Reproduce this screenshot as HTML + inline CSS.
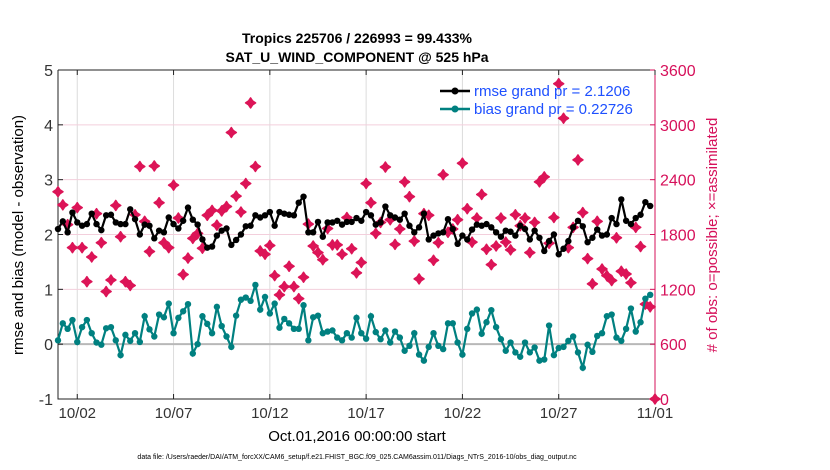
<!DOCTYPE html>
<html><head><meta charset="utf-8">
<style>
html,body{margin:0;padding:0;background:#fff;}
svg{display:block;font-family:"Liberation Sans",Arial,sans-serif;}
</style></head>
<body>
<svg id="chart" width="830" height="470" viewBox="0 0 830 470" xmlns="http://www.w3.org/2000/svg">
<rect width="830" height="470" fill="#fff"/>
<text x="357" y="43" text-anchor="middle" font-size="14" font-weight="bold">Tropics 225706 / 226993 = 99.433%</text>
<text x="357" y="62" text-anchor="middle" font-size="14" font-weight="bold">SAT_U_WIND_COMPONENT @ 525 hPa</text>
<g id="grid"></g>
<g id="axes"></g>
<g id="marks"></g>
<text transform="translate(23,235) rotate(-90)" text-anchor="middle" font-size="15">rmse and bias (model - observation)</text>
<text transform="translate(717,235) rotate(-90)" text-anchor="middle" font-size="15" fill="#d6105a"># of obs: o=possible; ×=assimilated</text>
<text x="357" y="441" text-anchor="middle" font-size="15">Oct.01,2016 00:00:00 start</text>
<text x="357" y="459" text-anchor="middle" font-size="7">data file: /Users/raeder/DAI/ATM_forcXX/CAM6_setup/f.e21.FHIST_BGC.f09_025.CAM6assim.011/Diags_NTrS_2016-10/obs_diag_output.nc</text>
<g id="legend">
<line x1="440" y1="91" x2="470" y2="91" stroke="#000" stroke-width="2.5"/>
<circle cx="455" cy="91" r="3.5" fill="#000"/>
<text x="474" y="96" font-size="15" fill="#1e50ff">rmse grand pr = 2.1206</text>
<line x1="440" y1="109" x2="470" y2="109" stroke="#008080" stroke-width="2.5"/>
<circle cx="455" cy="109" r="3.5" fill="#008080"/>
<text x="474" y="114" font-size="15" fill="#1e50ff">bias grand pr = 0.22726</text>
</g>
</svg>
<script>
const xTickLabels = ["10/02","10/07","10/12","10/17","10/22","10/27","11/01"];
const xTickDays = [1,6,11,16,21,26,31];
const yTicks = [-1,0,1,2,3,4,5];
const rightTicks = [0,600,1200,1800,2400,3000,3600];
const rmse = [2.10,2.24,2.04,2.40,2.22,2.16,2.19,2.38,2.19,2.08,2.35,2.36,2.22,2.19,2.19,2.46,2.28,2.00,2.18,2.16,1.93,2.07,2.04,2.31,2.19,2.11,2.25,2.49,2.27,2.18,1.91,1.76,1.78,1.98,2.07,2.11,1.81,1.90,2.00,2.15,2.16,2.35,2.31,2.35,2.41,2.16,2.41,2.38,2.36,2.35,2.58,2.69,2.04,2.04,2.23,1.96,2.22,2.22,2.25,2.18,2.23,2.23,2.30,
2.25,2.41,2.35,2.18,2.22,2.51,2.35,2.31,2.27,2.38,2.16,2.04,2.13,2.38,1.91,1.98,2.02,2.04,2.28,2.10,1.83,1.98,1.91,2.09,2.18,2.16,2.19,2.13,2.04,1.96,2.07,2.05,1.98,2.16,2.10,1.91,2.07,1.94,1.70,1.88,2.00,1.64,1.74,1.88,2.13,2.25,2.15,1.86,1.94,2.09,1.98,2.00,2.30,2.19,2.64,2.25,2.19,2.30,2.36,2.59,2.52];
const bias = [0.07,0.38,0.28,0.44,0.04,0.31,0.44,0.20,0.03,-0.01,0.29,0.31,0.07,-0.20,0.17,0.06,0.20,0.04,0.51,0.27,0.14,0.54,0.49,0.74,0.20,0.48,0.60,0.73,-0.17,0.00,0.51,0.37,0.20,0.68,0.33,0.14,-0.05,0.52,0.81,0.85,0.79,1.08,0.63,0.86,0.56,0.74,0.30,0.46,0.38,0.28,0.28,0.71,0.07,0.49,0.52,0.20,0.23,0.25,0.12,0.07,0.20,0.12,0.48,
0.20,0.10,0.51,0.22,0.09,0.25,0.03,0.23,0.12,-0.12,-0.03,0.20,-0.19,-0.30,-0.05,0.20,-0.03,-0.09,0.38,0.38,0.03,-0.19,0.28,0.56,0.63,0.19,0.40,0.62,0.31,0.09,-0.12,0.03,-0.15,-0.23,0.03,-0.15,-0.06,-0.30,-0.28,0.34,-0.20,-0.07,-0.05,0.06,0.14,-0.15,-0.43,-0.01,-0.14,0.15,0.20,0.51,0.54,0.12,0.06,0.28,0.65,0.23,0.40,0.83,0.90];
const obsCount = [2268,2124,1908,1656,2094,1656,1284,1554,2028,1710,1176,1302,2118,1776,1284,1242,2016,2544,1944,1614,2550,2148,1710,1656,2340,1980,1362,1542,1758,1812,1650,2010,2064,1902,2058,2106,2916,2220,2046,2358,3240,2544,1620,1584,1680,1350,1140,1230,1452,1230,1098,1332,1914,1674,1602,1524,1866,1686,1686,1584,1986,1644,1380,
1494,2358,2148,1812,1932,2538,1962,1692,1860,2376,2214,1728,1314,2028,2010,1518,1710,2454,1824,1860,1962,2580,2082,1716,1980,2238,1638,1470,1674,1980,1716,1632,2016,1896,1980,1602,1932,2376,2430,1704,1986,3450,3072,1656,1878,2616,2040,1536,1260,1944,1422,1350,1296,1764,1398,1368,1272,1878,1668,1038,1008,0];

const L=58, R=655, T=70, B=399;
const xs = d => L + (R-L)*d/31;
const ys = v => B - (B-T)*(v+1)/6;
const yr = c => B - (B-T)*c/3600;
const NS="http://www.w3.org/2000/svg";
function mk(parent, tag, attrs){const e=document.createElementNS(NS,tag);for(const k in attrs)e.setAttribute(k,attrs[k]);document.getElementById(parent).appendChild(e);return e;}

xTickDays.forEach((d,i)=>{
  const g=mk('grid','line',{x1:xs(d),x2:xs(d),y1:T,y2:B,stroke:'#dcdcdc','stroke-width':1});
  
  
});
yTicks.forEach(v=>{
  if(v===-1||v===5) return;
  const g=mk('grid','line',{x1:L,x2:R,y1:ys(v),y2:ys(v),stroke:v===0?'#b8b8b8':'#f3cfdc','stroke-width':v===0?2:1});
  
  
});
const fr=mk('axes','path',{d:`M${L},${T}H${R}M${L},${T}V${B}H${R}`,stroke:'#222',fill:'none','stroke-width':1});


const ra=mk('axes','line',{x1:R,x2:R,y1:T,y2:B,stroke:'#d6105a','stroke-width':1});


yTicks.forEach(v=>{
  mk('axes','line',{x1:L,x2:L+5,y1:ys(v),y2:ys(v),stroke:'#222'});
  const t=mk('axes','text',{x:L-5,y:ys(v)+6,'text-anchor':'end','font-size':16,fill:'#333'});
  t.textContent=v;
  
  
});
rightTicks.forEach(c=>{
  mk('axes','line',{x1:R-5,x2:R,y1:yr(c),y2:yr(c),stroke:'#d6105a'});
  const t=mk('axes','text',{x:R+5,y:yr(c)+6,'font-size':16,fill:'#d6105a'});
  t.textContent=c;
  
  
});
xTickDays.forEach((d,i)=>{
  mk('axes','line',{x1:xs(d),x2:xs(d),y1:B,y2:B-5,stroke:'#222'});
  mk('axes','line',{x1:xs(d),x2:xs(d),y1:T,y2:T+5,stroke:'#222'});
  const t=mk('axes','text',{x:xs(d),y:B+19,'text-anchor':'middle','font-size':15,fill:'#333'});
  t.textContent=xTickLabels[i];
  
  
});
obsCount.forEach((c,i)=>{
  const x=xs(i*0.25), y=yr(c);
  const g=mk('marks','path',{d:`M${x},${y-5}L${x+2},${y-2}L${x+5},${y}L${x+2},${y+2}L${x},${y+5}L${x-2},${y+2}L${x-5},${y}L${x-2},${y-2}Z`,fill:'#dc1457',stroke:'#dc1457','stroke-width':1.5,'stroke-linejoin':'round'});
  
  
});
function series(vals,color,name){
  const d=vals.map((v,i)=>(i?'L':'M')+xs(i*0.25).toFixed(1)+','+ys(v).toFixed(1)).join('');
  const p=mk('marks','path',{d:d,fill:'none',stroke:color,'stroke-width':2.2});
  
  
  vals.forEach((v,i)=>{
    const c=mk('marks','circle',{cx:xs(i*0.25),cy:ys(v),r:3.2,fill:color});
    
    
  });
}
series(rmse,'#000','rmse');
series(bias,'#008080','bias');
</script>
</body></html>
